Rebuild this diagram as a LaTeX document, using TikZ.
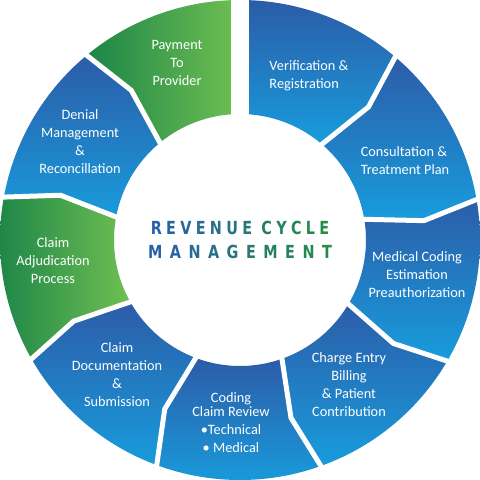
\documentclass[tikz,border=0pt]{standalone}
\usepackage{fontspec}
\setmainfont{Carlito}
\newfontfamily\titlefont{DejaVu Sans}[FakeStretch=0.8]
\definecolor{bdark}{RGB}{44,92,168}
\definecolor{blight}{RGB}{24,156,220}
\definecolor{gdark}{RGB}{27,132,72}
\definecolor{glight}{RGB}{112,192,82}
\definecolor{tblue}{RGB}{40,96,172}
\definecolor{tgreen}{RGB}{36,142,66}
\newlength\tls
\newcommand\gl[2]{{\color{tgreen!#1!tblue}#2}\kern\tls}
\tikzset{
  bseg/.style={top color=bdark, bottom color=blight},
  gseg/.style={left color=gdark, right color=glight},
  gapline/.style={white, line width=5pt, line join=miter},
  lbl/.style={text=white, font=\fontsize{14.3}{18}\selectfont, align=center, inner sep=0pt},
  ttl/.style={inner sep=0pt, font=\titlefont\bfseries\fontsize{18}{18}\selectfont}
}
\begin{document}
\begin{tikzpicture}[x=1pt,y=1pt]
\fill[white] (-240,-240) rectangle (240,240);
\useasboundingbox (-240,-240) rectangle (240,240);
% segments: start angle / end angle / kink at start / kink at end / style
\foreach \a/\b/\ka/\kb/\s in {
   90/50/90/46/bseg, 50/10/46/6/bseg, 10/-30/6/-34/bseg, -30/-70/-34/-74/bseg,
   -70/-110/-74/-114/bseg, -110/-150/-114/-154/bseg, -150/-190/-154/-194/gseg,
   170/130/166/126/bseg, 130/90/126/90/gseg}{
  \path[\s] (\a:240) arc[start angle=\a, end angle=\b, radius=240]
     -- (\kb:185) -- (\b:126) arc[start angle=\b, end angle=\a, radius=126]
     -- (\ka:185) -- cycle;
}
\foreach \b in {50,10,-30,-70,-110,-150,170,130}{
  \draw[gapline] (\b:246) -- (\b-4:185) -- (\b:120);
}
\fill[white] (-9,110) rectangle (9,242);
% centre title
\node[ttl] (title1) at (0,12) {\setlength\tls{4.3pt}\gl{0}{R}\gl{8}{E}\gl{17}{V}\gl{25}{E}\gl{33}{N}\gl{42}{U}\gl{50}{E} \gl{67}{C}\gl{75}{Y}\gl{83}{C}\gl{92}{L}\gl{100}{E}\kern-\tls};
\node[ttl] (title2) at (0,-11.5) {\setlength\tls{7.5pt}\gl{0}{M}\gl{11}{A}\gl{22}{N}\gl{33}{A}\gl{44}{G}\gl{56}{E}\gl{67}{M}\gl{78}{E}\gl{89}{N}\gl{100}{T}\kern-\tls};
% labels
\node[lbl] (pay) at (-63,177) {Payment\\To\\Provider};
\node[lbl, align=left] (ver) at (69,164) {Verification \&\\Registration};
\node[lbl, align=left] (con) at (165,79) {Consultation \&\\Treatment Plan};
\node[lbl] (med) at (177,-35) {Medical Coding\\Estimation\\Preauthorization};
\node[lbl] (chg) at (109,-145) {Charge Entry\\Billing\\\& Patient\\Contribution};
\node[lbl] (cod) at (-9,-183) {Coding\\[-4pt]Claim Review\\\textbullet Technical\\\textbullet\ Medical};
\node[lbl] (doc) at (-123,-135) {Claim\\Documentation\\\&\\Submission};
\node[lbl] (adj) at (-187,-21) {Claim\\Adjudication\\Process};
\node[lbl] (den) at (-160,98) {Denial\\Management\\\&\\Reconcillation};
\end{tikzpicture}
\end{document}
